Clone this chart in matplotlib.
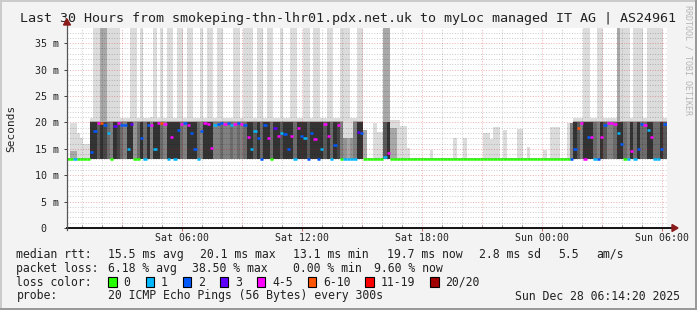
import matplotlib
matplotlib.use("Agg")
import matplotlib.pyplot as plt
from matplotlib.patches import Rectangle, Polygon
from matplotlib.collections import LineCollection
from matplotlib.lines import Line2D

# ---------------- data ----------------
start_hour = 0.25          # first step: Sat 00:15 (hours since Sat 00:00)
step_hours = 1 / 6         # 10-minute steps

median_ms = [
    13.1, 13.1, 13.1, 13.1, 13.1, 13.1, 13.1, 14.3, 18.4, 19.8,
    19.9, 19.6, 18.0, 13.1, 19.3, 19.8, 19.6, 19.5, 15.0, 19.7,
    13.1, 13.1, 17.0, 13.1, 19.6, 19.5, 15.0, 19.8, 19.9, 19.7,
    13.1, 17.2, 13.1, 18.5, 19.7, 19.8, 19.6, 18.0, 15.0, 13.1,
    18.3, 19.8, 19.7, 15.2, 19.6, 19.7, 19.8, 19.7, 19.8, 19.6,
    19.7, 19.8, 19.7, 19.5, 17.3, 15.0, 18.3, 17.0, 13.1, 19.5,
    17.0, 13.1, 19.0, 17.4, 18.0, 17.8, 15.0, 17.5, 13.1, 19.0,
    17.5, 17.0, 13.1, 18.0, 16.8, 13.1, 15.0, 19.7, 17.5, 13.1,
    15.8, 19.6, 13.1, 13.1, 13.1, 13.1, 13.1, 18.2, 18.0, 13.1,
    13.1, 13.1, 13.1, 13.1, 13.1, 13.5, 14.2, 13.1, 13.1, 13.1,
    13.1, 13.1, 13.1, 13.1, 13.1, 13.1, 13.1, 13.1, 13.1, 13.1,
    13.1, 13.1, 13.1, 13.1, 13.1, 13.1, 13.1, 13.1, 13.1, 13.1,
    13.1, 13.1, 13.1, 13.1, 13.1, 13.1, 13.1, 13.1, 13.1, 13.1,
    13.1, 13.1, 13.1, 13.1, 13.1, 13.1, 13.1, 13.1, 13.1, 13.1,
    13.1, 13.1, 13.1, 13.1, 13.1, 13.1, 13.1, 13.1, 13.1, 13.1,
    13.1, 13.1, 15.0, 19.0, 19.9, 13.1, 17.2, 17.2, 13.1, 13.1,
    17.2, 19.6, 19.8, 19.8, 19.7, 18.0, 16.0, 13.1, 13.1, 14.5,
    13.1, 15.0, 19.7, 19.6, 18.5, 17.2, 13.1, 13.1, 15.0, 19.7,
]

loss_pings = [
    0, 0, 1, 0, 0, 0, 0, 2, 2, 4,
    6, 2, 1, 0, 3, 4, 2, 2, 1, 3,
    0, 0, 2, 1, 2, 4, 1, 4, 6, 4,
    1, 4, 1, 2, 4, 2, 4, 2, 2, 1,
    2, 4, 4, 4, 1, 2, 2, 4, 2, 1,
    4, 2, 4, 2, 4, 1, 1, 2, 2, 2,
    4, 0, 3, 4, 1, 2, 2, 4, 1, 4,
    2, 1, 2, 2, 4, 2, 1, 4, 4, 1,
    2, 4, 0, 1, 1, 1, 1, 3, 2, 0,
    0, 0, 0, 0, 0, 1, 4, 0, 0, 0,
    0, 0, 0, 0, 0, 0, 0, 0, 0, 0,
    0, 0, 0, 0, 0, 0, 0, 0, 0, 0,
    0, 0, 0, 0, 0, 0, 0, 0, 0, 0,
    0, 0, 0, 0, 0, 0, 0, 0, 0, 0,
    0, 0, 0, 0, 0, 0, 0, 0, 0, 0,
    0, 2, 2, 6, 4, 4, 2, 4, 1, 2,
    4, 2, 4, 4, 4, 1, 2, 0, 1, 4,
    1, 2, 2, 4, 1, 4, 1, 1, 2, 2,
]

# highest ping of each step (outer, lightest smoke)
ping_max_ms = [
    13.3, 19.9, 19.9, 18.0, 17.0, 16.0, 16.0, 20.8, 45.0, 45.0,
    45.0, 45.0, 45.0, 45.0, 45.0, 45.0, 20.8, 20.8, 20.8, 45.0,
    45.0, 20.8, 45.0, 20.8, 20.8, 21.0, 45.0, 20.8, 45.0, 20.8,
    45.0, 45.0, 20.8, 45.0, 45.0, 20.8, 45.0, 45.0, 20.8, 20.8,
    45.0, 20.8, 45.0, 45.0, 20.8, 45.0, 45.0, 20.8, 20.8, 20.8,
    45.0, 45.0, 20.8, 45.0, 45.0, 45.0, 20.8, 45.0, 45.0, 20.8,
    45.0, 45.0, 20.8, 20.8, 45.0, 20.8, 20.8, 45.0, 45.0, 20.8,
    20.8, 45.0, 45.0, 20.8, 45.0, 45.0, 20.8, 20.8, 45.0, 45.0,
    20.8, 20.8, 45.0, 45.0, 45.0, 20.8, 20.8, 45.0, 45.0, 18.5,
    13.3, 13.3, 19.9, 18.2, 18.2, 45.0, 45.0, 20.4, 20.4, 20.4,
    19.4, 19.4, 15.1, 13.3, 13.3, 13.3, 13.3, 13.3, 13.3, 14.8,
    13.3, 13.3, 13.3, 13.3, 13.3, 13.3, 17.0, 13.3, 13.3, 17.0,
    13.3, 13.3, 13.3, 13.3, 13.3, 18.0, 18.0, 16.9, 19.1, 19.1,
    13.3, 18.5, 13.3, 13.3, 13.3, 18.8, 18.8, 13.3, 15.4, 13.3,
    13.3, 13.3, 13.3, 14.8, 13.3, 19.1, 19.1, 19.1, 13.3, 13.3,
    19.8, 19.8, 20.8, 20.8, 20.8, 45.0, 45.0, 20.8, 20.8, 45.0,
    45.0, 20.8, 20.8, 20.8, 20.8, 45.0, 45.0, 45.0, 45.0, 20.8,
    45.0, 45.0, 45.0, 20.8, 45.0, 45.0, 45.0, 45.0, 45.0, 20.8,
]

# upper edge of the medium smoke layer
ping_hi_ms = [
    13.3, 14.5, 14.5, 13.3, 13.3, 13.3, 13.3, 20.3, 20.3, 20.3,
    45.0, 45.0, 20.3, 20.3, 20.3, 20.3, 20.3, 20.3, 20.3, 20.3,
    20.3, 20.3, 20.3, 20.3, 20.3, 20.3, 20.3, 20.3, 20.3, 20.3,
    20.3, 20.3, 20.3, 20.3, 20.3, 20.3, 20.3, 20.3, 20.3, 20.3,
    20.3, 20.3, 20.3, 20.3, 20.3, 20.3, 20.3, 20.3, 20.3, 20.3,
    20.3, 20.3, 20.3, 20.3, 20.3, 20.3, 20.3, 20.3, 20.3, 20.3,
    20.3, 20.3, 20.3, 20.3, 20.3, 20.3, 20.3, 20.3, 20.3, 20.3,
    20.3, 20.3, 20.3, 20.3, 20.3, 20.3, 20.3, 20.3, 20.3, 20.3,
    20.3, 20.3, 20.3, 17.0, 17.0, 17.0, 20.3, 20.3, 20.3, 18.5,
    13.3, 13.3, 13.3, 13.3, 13.3, 45.0, 45.0, 19.0, 19.0, 13.3,
    13.3, 13.3, 13.3, 13.3, 13.3, 13.3, 13.3, 13.3, 13.3, 13.3,
    13.3, 13.3, 13.3, 13.3, 13.3, 13.3, 13.3, 13.3, 13.3, 13.3,
    13.3, 13.3, 13.3, 13.3, 13.3, 13.3, 13.3, 13.3, 13.3, 13.3,
    13.3, 13.3, 13.3, 13.3, 13.3, 13.3, 13.3, 13.3, 13.3, 13.3,
    13.3, 13.3, 13.3, 13.3, 13.3, 13.3, 13.3, 13.3, 13.3, 13.3,
    13.3, 19.8, 20.3, 20.3, 20.3, 20.3, 20.3, 20.3, 20.3, 20.3,
    20.3, 20.3, 20.3, 20.3, 20.3, 45.0, 20.3, 20.3, 20.3, 20.3,
    20.3, 20.3, 20.3, 20.3, 20.3, 20.3, 20.3, 20.3, 20.3, 20.3,
]

# density of the dark smoke core (0 = none, 9 = almost black)
smoke_core = [
    0, 0, 0, 0, 0, 0, 0, 8, 8, 6,
    8, 7, 5, 4, 8, 7, 5, 4, 8, 8,
    3, 5, 8, 5, 8, 4, 8, 8, 5, 4,
    8, 8, 8, 8, 5, 4, 8, 8, 8, 5,
    4, 8, 8, 8, 4, 4, 5, 4, 4, 5,
    4, 5, 4, 5, 8, 8, 6, 8, 5, 8,
    8, 5, 8, 8, 6, 8, 8, 8, 5, 8,
    8, 8, 6, 8, 8, 8, 8, 6, 8, 5,
    8, 7, 4, 3, 2, 3, 4, 8, 8, 0,
    0, 0, 0, 0, 0, 6, 8, 0, 0, 0,
    0, 0, 0, 0, 0, 0, 0, 0, 0, 0,
    0, 0, 0, 0, 0, 0, 0, 0, 0, 0,
    0, 0, 0, 0, 0, 0, 0, 0, 0, 0,
    0, 0, 0, 0, 0, 0, 0, 0, 0, 0,
    0, 0, 0, 0, 0, 0, 0, 0, 0, 0,
    0, 4, 8, 6, 4, 8, 8, 8, 5, 4,
    8, 6, 4, 4, 5, 8, 8, 5, 4, 8,
    5, 8, 5, 5, 8, 8, 5, 5, 8, 6,
]

ping_min_ms = 13.0
core_top_ms = 20.0

y_ticks = [0, 5, 10, 15, 20, 25, 30, 35]
y_tick_labels = ["0  ", "5 m", "10 m", "15 m", "20 m", "25 m", "30 m", "35 m"]
x_tick_hours = [6, 12, 18, 24, 30]
x_tick_labels = ["Sat 06:00", "Sat 12:00", "Sat 18:00", "Sun 00:00", "Sun 06:00"]

loss_bins = ["0", "1", "2", "3", "4-5", "6-10", "11-19", "20/20"]
loss_colors = ["#26ff00", "#00b8ff", "#0059ff", "#5e00ff",
               "#ff00ff", "#ff5500", "#ff0000", "#a10000"]

title = "Last 30 Hours from smokeping-thn-lhr01.pdx.net.uk to myLoc managed IT AG | AS24961"
rtt_stats = ["15.5 ms avg", "20.1 ms max", "13.1 ms min", "19.7 ms now", "2.8 ms sd", "5.5", "am/s"]
loss_stats = ["6.18 % avg", "38.50 % max", "0.00 % min", "9.60 % now"]
probe_text = "20 ICMP Echo Pings (56 Bytes) every 300s"
stamp_text = "Sun Dec 28 06:14:20 2025"

# ---------------- figure ----------------
W, H = 697, 310
MONO = "DejaVu Sans Mono"
TXT = "#222222"
fig = plt.figure(figsize=(W / 100, H / 100), dpi=100)
fig.patch.set_facecolor("#f3f3f3")


def fx(px):
    return px / W


def fy(py):
    return 1 - py / H


PL, PR, PT, PB = 67, 667, 28, 228
ax = fig.add_axes([fx(PL), fy(PB), (PR - PL) / W, (PB - PT) / H])
ax.set_facecolor("white")
x_lo = 6 + (PL - 181.7) / 20
x_hi = 6 + (PR - 181.7) / 20
ax.set_xlim(x_lo, x_hi)
ax.set_ylim(0, (PB - PT) / 5.28)

n = len(median_ms)
starts = [start_hour + i * step_hours for i in range(n)]
edges = starts + [start_hour + n * step_hours]

# light outer smoke
ax.fill_between(edges, ping_min_ms, ping_max_ms + [ping_max_ms[-1]], step="post",
                color="#dcdcdc", linewidth=0, zorder=1)
# medium smoke
ax.fill_between(edges, ping_min_ms, ping_hi_ms + [ping_hi_ms[-1]], step="post",
                color="#a8a8a8", linewidth=0, zorder=1.2)
# dark core
core_colors = []
core_h = []
for i in range(n):
    g = 0.80 - 0.075 * smoke_core[i]
    core_colors.append((g, g, g))
    core_h.append((min(ping_hi_ms[i], core_top_ms) - ping_min_ms) if smoke_core[i] > 0 else 0)
ax.bar(starts, core_h, width=step_hours, bottom=ping_min_ms, align="edge",
       color=core_colors, linewidth=0, antialiased=False, zorder=1.4)

# grid (semi-transparent, drawn over the smoke like rrdtool)
MINOR_GRID = (0.0, 0.0, 0.0, 0.2)
MAJOR_GRID = (0.85, 0.0, 0.0, 0.3)
for h in range(1, 31):
    if x_lo < h < x_hi:
        ax.axvline(h, color=MAJOR_GRID if h % 3 == 0 else MINOR_GRID, lw=0.72,
                   ls=(0, (1, 1.6)), zorder=3)
for v in range(1, 38):
    ax.axhline(v, color=MAJOR_GRID if v % 5 == 0 else MINOR_GRID, lw=0.72,
               ls=(0, (1, 1.6)), zorder=3)


def loss_color(k):
    if k <= 3:
        return loss_colors[k]
    if k <= 5:
        return loss_colors[4]
    if k <= 10:
        return loss_colors[5]
    if k <= 19:
        return loss_colors[6]
    return loss_colors[7]


segs = [[(starts[i], median_ms[i]), (edges[i + 1], median_ms[i])] for i in range(n)]
cols = [loss_color(k) for k in loss_pings]
ax.add_collection(LineCollection(segs, colors=cols, linewidths=1.8,
                                 capstyle="butt", zorder=4))

# axes / ticks
for s in ax.spines.values():
    s.set_visible(False)
ax.set_yticks(y_ticks)
ax.set_yticklabels(y_tick_labels, fontfamily=MONO, fontsize=7.2, color=TXT)
ax.set_xticks(x_tick_hours)
ax.set_xticklabels(x_tick_labels, fontfamily=MONO, fontsize=7.1, color=TXT)
ax.set_xticks([h for h in range(1, 31) if h % 6 != 0], minor=True)
ax.tick_params(axis="y", which="major", length=2, width=0.72, color="#444444",
               direction="out", pad=3.6)
ax.tick_params(axis="x", which="major", length=2.5, width=0.72, color="#d07070",
               direction="out", pad=0.8)
ax.tick_params(axis="x", which="minor", length=2, width=0.72, color="#999999",
               direction="in")

# axis lines with arrows
fig.add_artist(Line2D([fx(PL), fx(673)], [fy(PB), fy(PB)], color="black", lw=1.3,
                      transform=fig.transFigure, zorder=5))
fig.add_artist(Line2D([fx(PL), fx(PL)], [fy(PB + 2), fy(24)], color="#555555", lw=0.9,
                      transform=fig.transFigure, zorder=5))
fig.add_artist(Polygon([(fx(672), fy(PB - 3.5)), (fx(678), fy(PB)), (fx(672), fy(PB + 3.5))],
                       closed=True, color="#8b1a1a", transform=fig.transFigure, zorder=6))
fig.add_artist(Polygon([(fx(PL - 3.5), fy(25)), (fx(PL), fy(19)), (fx(PL + 3.5), fy(25))],
                       closed=True, color="#8b1a1a", transform=fig.transFigure, zorder=6))

# texts
fig.text(fx(347.5), fy(18.5), title, ha="center", va="center", fontfamily=MONO,
         fontsize=9.6, color=TXT)
fig.text(fx(11), fy(128), "Seconds", rotation=90, ha="center", va="center",
         fontfamily=MONO, fontsize=8, color=TXT)
fig.text(fx(688), fy(5), "RRDTOOL / TOBI OETIKER", rotation=270, ha="center", va="top",
         fontfamily=MONO, fontsize=6, color="#b5b5b5")

LFS = 8.3
rows_y = [254.3, 268.3, 282.3, 296.0]
fig.text(fx(16.4), fy(rows_y[0]), "median rtt:", va="center", fontfamily=MONO, fontsize=LFS, color=TXT)
for xs, s in zip([107.6, 200, 293, 387, 479, 558, 596], rtt_stats):
    fig.text(fx(xs), fy(rows_y[0]), s, va="center", fontfamily=MONO, fontsize=LFS, color=TXT)
fig.text(fx(16.4), fy(rows_y[1]), "packet loss:", va="center", fontfamily=MONO, fontsize=LFS, color=TXT)
for xs, s in zip([107.6, 192, 293, 374], loss_stats):
    fig.text(fx(xs), fy(rows_y[1]), s, va="center", fontfamily=MONO, fontsize=LFS, color=TXT)
fig.text(fx(16.4), fy(rows_y[2]), "loss color:", va="center", fontfamily=MONO, fontsize=LFS, color=TXT)
box_x = [108, 145.5, 182.5, 219.5, 256.5, 307.5, 365, 430]
for bx, lab, col in zip(box_x, loss_bins, loss_colors):
    fig.add_artist(Rectangle((fx(bx), fy(287)), 8.5 / W, 10.5 / H, facecolor=col,
                             edgecolor="black", lw=0.8, transform=fig.transFigure))
    fig.text(fx(bx + 15.5), fy(rows_y[2]), lab, va="center", fontfamily=MONO,
             fontsize=LFS, color=TXT)
fig.text(fx(16.4), fy(rows_y[3]), "probe:", va="center", fontfamily=MONO, fontsize=LFS, color=TXT)
fig.text(fx(107.6), fy(rows_y[3]), probe_text, va="center", fontfamily=MONO, fontsize=LFS, color=TXT)
fig.text(fx(680), fy(rows_y[3]), stamp_text, ha="right", va="center", fontfamily=MONO,
         fontsize=LFS, color=TXT)

# 3-D frame
fig.add_artist(Rectangle((0, fy(2)), 1, 2 / H, color="#cbcbcb", lw=0, transform=fig.transFigure))
fig.add_artist(Rectangle((0, 0), 2 / W, 1, color="#cbcbcb", lw=0, transform=fig.transFigure))
fig.add_artist(Rectangle((0, 0), 1, 2 / H, color="#999999", lw=0, transform=fig.transFigure))
fig.add_artist(Rectangle((fx(W - 2), 0), 2 / W, 1, color="#999999", lw=0, transform=fig.transFigure))

fig.savefig("out.png", dpi=100, facecolor=fig.get_facecolor())
